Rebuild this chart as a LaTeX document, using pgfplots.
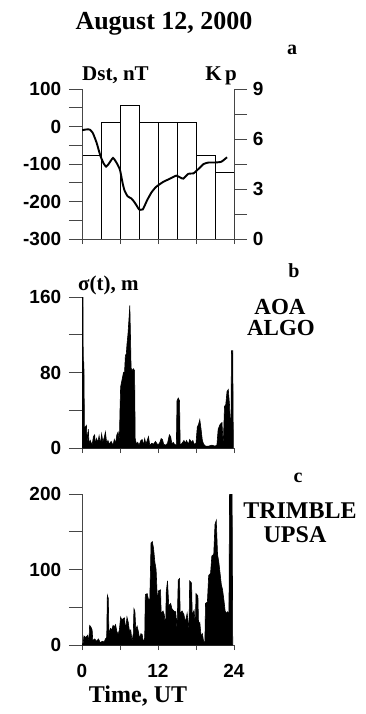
\documentclass[border=0pt]{standalone}
\usepackage{fontspec}
\setmainfont{Liberation Serif}
\newfontfamily\arialf{Liberation Sans}
\usepackage{pgfplots}
\pgfplotsset{compat=1.18}
\newcommand{\tickfont}{\arialf\bfseries\fontsize{19}{20}\selectfont}
\pgfplotsset{
  panel/.style={
    scale only axis, width=152pt, xmin=0, xmax=24,
    axis x line*=bottom, axis y line*=left,
    axis line style={draw=gray!55!black, line width=0.9pt},
    tick style={draw=gray!55!black, line width=0.9pt},
    xtick={0,6,12,18,24},
    xtick style={/pgfplots/major tick length=5pt},
    ytick style={/pgfplots/major tick length=13pt},
    ticklabel style={font=\tickfont},
    yticklabel style={xshift=-13pt},
    xticklabel style={yshift=-11pt},
    xtick align=outside, ytick align=outside,
  }
}
\begin{document}
\begin{tikzpicture}[x=1pt,y=1pt]
\useasboundingbox (0,0) rectangle (365,-714);

% Panel a: Kp bars (right axis)
\begin{axis}[panel, at={(82pt,-239pt)}, anchor=south west, height=150pt,
  ymin=0, ymax=9, axis y line*=right, axis x line=none,
  ytick={0,1.5,...,9}, yticklabels={0,,3,,6,,9},
  yticklabel style={xshift=24pt},
  xtick align=outside, ytick align=outside]
\addplot[ybar interval, draw=black, fill=none, line width=1pt]
  coordinates {(0,5)(3,7)(6,8)(9,7)(12,7)(15,7)(18,5)(21,4)(24,4)};
\end{axis}

% Panel a: Dst line (left axis)
\begin{axis}[panel, at={(82pt,-239pt)}, anchor=south west, height=150pt,
  ymin=-300, ymax=100,
  ytick={-300,-250,...,100}, yticklabels={-300,,-200,,-100,,0,,100},
  xticklabels={}, xtick align=outside, ytick align=outside]
\addplot[black, line width=1.9pt, smooth, tension=0.3] coordinates {
(0,-10)(0.6,-8)(1.2,-8)(1.7,-17)(2.3,-43)(2.9,-78)(3.4,-98)(3.8,-107)(4.2,-100)
(4.9,-84)(5.5,-98)(6.0,-116)(6.4,-150)(6.7,-170)(7.2,-186)(7.8,-192)(8.2,-200)(8.6,-210)
(9.0,-221)(9.6,-221)(10.3,-196)(11.0,-175)(11.7,-161)(12.8,-148)(13.9,-139)
(14.9,-131)(15.5,-136)(16.0,-139)(16.8,-126)(17.6,-125)(18.4,-113)(19.2,-100)
(20.0,-96)(21.0,-96)(22.0,-94)(22.9,-82)};
\end{axis}

% Panel b
\begin{axis}[panel, at={(82pt,-448pt)}, anchor=south west, height=151pt,
  ymin=0, ymax=160,
  ytick={0,40,...,160}, yticklabels={0,,80,,160},
  xticklabels={}, xtick align=outside, ytick align=outside]
\addplot[fill=black, draw=black, line width=0.6pt] coordinates {
(0,0)(0.02,160)(0.15,160)(0.2,93)(0.3,90)(0.4,10)(0.5,22)(0.7,24)(0.8,6)(1.0,20)
(1.1,5)(1.3,8)(1.6,3)(1.8,12)(2.0,14)(2.1,4)(2.3,10)(2.5,6)(2.7,13)(2.9,4)(3.1,15)
(3.3,6)(3.5,11)(3.7,17)(3.9,5)(4.1,8)(4.3,4)(4.6,7)(4.9,3)(5.1,9)(5.3,5)(5.5,14)
(5.7,17)(5.9,8)(6.0,40)(6.1,65)(6.25,70)(6.4,75)(6.55,80)(6.7,78)(6.85,98)(7.0,100)
(7.1,110)(7.25,120)(7.4,135)(7.55,151)(7.65,120)(7.75,85)(7.9,82)(8.1,84)(8.3,82)
(8.4,10)(8.6,4)(8.8,6)(9.0,3)(9.3,8)(9.5,9)(9.7,3)(9.9,10)(10.1,4)(10.3,8)(10.5,12)
(10.7,3)(11,5)(11.3,4)(11.6,7)(12.0,3)(12.3,6)(12.5,10)(12.7,9)(12.9,4)(13.2,3)
(13.5,5)(13.8,14)(14.0,12)(14.2,4)(14.4,6)(14.6,4)(14.9,3)(15.0,50)(15.2,53)(15.4,50)
(15.5,3)(15.8,5)(16.1,8)(16.3,5)(16.5,8)(16.8,4)(17.0,9)(17.3,6)(17.5,8)(17.7,4)
(18.0,5)(18.2,22)(18.4,25)(18.6,30)(18.8,20)(19.0,8)(19.2,4)(19.5,2)(20.0,2)(20.5,3)
(21.0,2)(21.3,3)(21.5,20)(21.8,25)(22.1,27)(22.3,3)(22.5,44)(22.7,46)(22.9,60)
(23.1,62)(23.3,45)(23.5,2)(23.6,103)(23.8,103)(23.9,0)} \closedcycle;
\end{axis}

% Panel c
\begin{axis}[panel, at={(82pt,-645pt)}, anchor=south west, height=151pt,
  ymin=0, ymax=200,
  ytick={0,50,...,200}, yticklabels={0,,100,,200},
  xticklabels={0,,12,,24}, xtick align=outside, ytick align=outside]
\addplot[fill=black, draw=black, line width=0.6pt] coordinates {
(0,0)(0.2,3)(0.3,12)(0.6,10)(0.9,13)(1.1,5)(1.2,26)(1.4,24)(1.6,20)(1.7,6)(2.0,8)
(2.3,5)(2.6,8)(2.9,3)(3.2,5)(3.5,4)(3.7,8)(3.9,10)(4.0,66)(4.15,62)(4.25,15)(4.5,22)
(4.7,20)(4.9,26)(5.1,24)(5.3,27)(5.5,18)(5.7,14)(5.9,20)(6.1,37)(6.3,33)(6.5,35)
(6.7,36)(6.9,20)(7.1,37)(7.3,30)(7.5,18)(7.7,20)(7.9,5)(8.1,15)(8.2,48)(8.35,45)
(8.5,20)(8.7,25)(8.9,18)(9.1,8)(9.3,15)(9.5,14)(9.7,3)(9.9,10)(10.0,67)(10.3,68)
(10.5,60)(10.7,60)(10.8,95)(10.9,135)(11.1,137)(11.3,128)(11.5,110)(11.7,100)
(11.9,60)(12.1,72)(12.4,73)(12.5,42)(12.8,45)(13.0,40)(13.2,20)(13.3,70)(13.5,85)
(13.7,52)(14.0,55)(14.2,48)(14.5,45)(14.8,44)(15.0,20)(15.2,86)(15.4,88)(15.5,42)
(15.8,45)(16.1,40)(16.3,30)(16.6,42)(16.9,20)(17.0,85)(17.3,82)(17.4,40)(17.7,46)
(17.9,25)(18.0,68)(18.3,65)(18.4,28)(18.6,30)(18.8,12)(19.0,15)(19.2,5)(19.4,3)
(19.5,55)(19.8,57)(20.0,92)(20.3,95)(20.5,118)(20.8,120)(21.0,160)(21.2,165)
(21.4,120)(21.6,110)(21.8,95)(22.0,80)(22.2,73)(22.4,60)(22.6,45)(22.8,42)(23.0,44)
(23.2,40)(23.3,203)(23.7,203)(23.8,0)} \closedcycle;
\end{axis}

% Texts
\node[anchor=base, font=\bfseries\fontsize{26}{26}\selectfont] at (164,-30) {August 12, 2000};
\node[anchor=base, font=\bfseries\fontsize{20}{20}\selectfont] at (292,-55) {a};
\node[anchor=base west, inner sep=0pt, font=\bfseries\fontsize{21}{21}\selectfont] at (82,-81) {Dst, nT};
\node[anchor=base east, inner sep=0pt, font=\bfseries\fontsize{21}{21}\selectfont] at (237,-81) {K\,p};
\node[anchor=base, font=\bfseries\fontsize{20}{20}\selectfont] at (294,-277) {b};
\node[anchor=base west, inner sep=0pt, font=\bfseries\fontsize{21}{21}\selectfont] at (78,-290) {σ(t), m};
\node[anchor=base, font=\bfseries\fontsize{23}{23}\selectfont] at (280,-314) {AOA};
\node[anchor=base, font=\bfseries\fontsize{23}{23}\selectfont] at (281,-335) {ALGO};
\node[anchor=base, font=\bfseries\fontsize{20}{20}\selectfont] at (298,-482) {c};
\node[anchor=base, font=\bfseries\fontsize{24}{24}\selectfont] at (300,-518) {TRIMBLE};
\node[anchor=base, font=\bfseries\fontsize{24}{24}\selectfont] at (295,-542) {UPSA};
\node[anchor=base, font=\bfseries\fontsize{24}{24}\selectfont] at (138,-702) {Time, UT};
\end{tikzpicture}
\end{document}
